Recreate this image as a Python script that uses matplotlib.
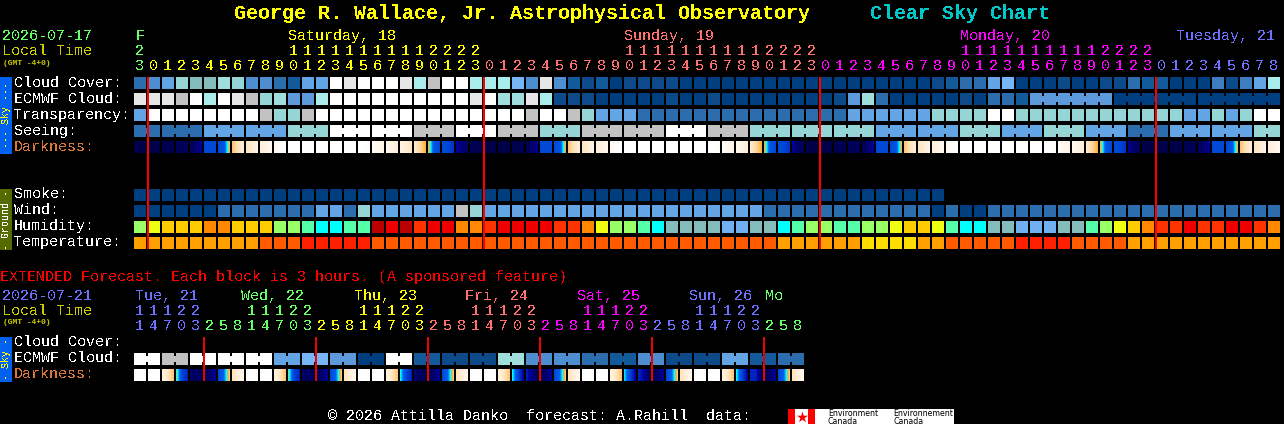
import numpy as np
import matplotlib
matplotlib.use("Agg")
import matplotlib.pyplot as plt
from matplotlib.colors import LinearSegmentedColormap

title_main = "George R. Wallace, Jr. Astrophysical Observatory"
title_side = "Clear Sky Chart"

sky_rows = ["Cloud Cover:", "ECMWF Cloud:", "Transparency:", "Seeing:"]
ground_rows = ["Smoke:", "Wind:", "Humidity:", "Temperature:"]

sky_colors = {0: "#003F7F", 5: "#0D4A8A", 10: "#135A9A", 20: "#2C6DAD", 25: "#3C7EBF",
              30: "#4C8ECF", 35: "#5C9ADB", 40: "#63A4E5", 50: "#76B6F6", 60: "#84BCBC",
              70: "#95D5D5", 75: "#A0DEDE", 80: "#A8ECEC", 90: "#C2C2C2", 95: "#E6E6E6",
              100: "#FFFFFF"}
humidity_colors = ["#BB0000", "#EE0000", "#FF3300", "#FF8800", "#FFCC00", "#EEFF11",
                   "#99FF66", "#55FFAA", "#00FFFF", "#84BCBC", "#70B0F0"]
temperature_colors = ["#FF2000", "#FF5A00", "#FF9F00", "#FFDD00"]
dark_stops = ["#00004A", "#000068", "#0000A0", "#0048D8", "#0060F0", "#00FFFF",
              "#FFB040", "#FFD8A0", "#FFEFD8", "#FFF8F0", "#FFFFFF"]

cloud = [20, 30, 40, 70, 60, 60, 75, 70, 30, 30, 20, 10, 40, 40, 100, 95, 100, 100, 100, 95, 80,
         90, 100, 100, 80, 80, 80, 50, 30, 95, 30, 10, 5, 10, 0, 5, 5, 5, 5, 0, 0,
         0, 0, 0, 0, 0, 0, 0, 0, 0, 0, 0, 0, 0, 0, 0, 0, 5, 10, 20, 20, 40, 50,
         0, 0, 0, 5, 0, 0, 5, 5, 20, 10, 10, 0, 0, 0, 25, 5, 25, 40, 80]
ecmwf = [95, 95, 95, 90, 100, 80, 100, 95, 90, 70, 75, 35, 35, 80, 100, 100, 100, 100, 100, 100, 100,
         100, 100, 100, 95, 100, 75, 75, 95, 80, 5, 5, 5, 0, 0, 0, 0, 0, 5, 0, 0,
         5, 0, 0, 0, 0, 0, 0, 0, 0, 5, 35, 75, 20, 0, 0, 0, 0, 0, 5, 0, 20, 20, 10,
         35, 35, 35, 35, 35, 35, 0, 0, 0, 0, 0, 0, 0, 0, 0, 0, 0, 0]
ecmwf_blocks_from_64 = [6, 6, 6]
transparency = [40, 100, 100, 100, 100, 100, 100, 100, 100, 90, 70, 70, 90, 100, 100, 100, 100, 100, 100, 100, 100,
                100, 100, 100, 100, 100, 100, 100, 90, 100, 100, 90, 70, 40, 40, 40,
                20, 20, 20, 20, 20, 20, 20, 20, 20, 20, 20, 20, 20, 20, 20, 40,
                40, 40, 40, 40, 40, 70, 70, 70, 70, 100, 100,
                70, 70, 70, 70, 70, 70, 70, 70, 70, 70, 70, 70, 40, 40, 70, 40, 70, 100, 100]
seeing_blocks = [20, 20, 40, 40, 70, 100, 100, 90, 100, 90, 70, 90, 90, 100,
                 90, 70, 70, 70, 40, 40, 70, 40, 70, 40, 20, 40, 40, 70]
seeing_spans = [2] + [3] * 26 + [2]
smoke = [0] * 58
wind = [0, 0, 0, 0, 0, 0, 20, 20, 20, 20, 20, 20, 20, 40, 40, 20, 70, 40, 40, 40, 40,
        40, 40, 90, 70, 40, 40, 40, 40, 40, 40, 40, 40, 40, 40, 40, 40, 40, 40, 40, 40, 40, 40, 40, 40,
        20, 20, 20, 20, 20, 20, 20, 20, 20, 20, 20, 20, 0, 20, 0, 0,
        20, 20, 20, 20, 20, 20, 20, 20, 20, 20, 20, 20, 20, 20, 20, 20, 20, 20, 20, 20, 20]
humidity = [6, 5, 4, 4, 4, 3, 3, 4, 4, 4, 6, 6, 7, 8, 8, 7, 7, 0, 1, 0, 2,
            1, 1, 3, 3, 2, 1, 1, 1, 1, 2, 2, 3, 5, 6, 6, 7, 8, 9, 9, 9, 9, 10, 10, 9, 9, 8, 7, 6, 6, 7, 7,
            6, 6, 5, 4, 4, 5, 7, 8, 8, 9, 9, 10, 10, 10, 9, 9, 7, 6, 5, 4, 3, 2, 2, 1, 2, 2, 1, 1, 2, 3]
temperature = [2, 2, 2, 2, 2, 2, 2, 2, 2, 1, 1, 1, 0, 0, 0, 0, 0, 1, 1, 1, 1,
               1, 1, 1, 1, 1, 1, 1, 1, 1, 1, 1, 1, 1, 1, 1, 1, 1, 1, 1, 1, 1, 1, 1, 1, 1,
               2, 2, 2, 2, 2, 2,
               3, 3, 3, 3, 2, 2, 1, 1, 1, 1, 1, 0, 0, 0, 0, 1, 1, 1, 1,
               2, 2, 2, 2, 2, 2, 2, 2, 2, 2, 2]
darkness = [(0, 0, 0), (0, 0, 0), (.3, .3, .3), (.5, .5, .5), (.7, 1, 2), (3, 3, 3),
            (3, 3.5, 6), (6.5, 7.5, 8), (7.5, 8, 8.5), (8, 8.5, 9), (9, 9.5, 10), (10, 10, 10),
            (10, 10, 10), (10, 10, 10), (10, 10, 10), (10, 10, 10), (10, 10, 9.5), (9.5, 9, 8.5),
            (9, 8.5, 8), (8.5, 8, 7.5), (7.8, 7, 6), (6, 3.5, 3), (3, 3, 2.7), (2, 1.2, 1),
            (.3, .3, .3), (0, 0, 0), (0, 0, 0), (.3, .3, .3), (.5, .8, 2), (3, 3, 3),
            (3, 3.5, 6), (6.5, 7.5, 8), (7.5, 8, 8.5), (8, 8.5, 9), (9, 9.5, 10), (10, 10, 10),
            (10, 10, 10), (10, 10, 10), (10, 10, 10), (10, 10, 10), (10, 10, 10), (10, 10, 9.5),
            (9.5, 9, 8.5), (9, 8.5, 8), (7.8, 7, 6), (6, 3.5, 3), (3, 3, 2.7), (2, 1, .5),
            (0, 0, 0), (0, 0, 0), (.3, .3, .3), (.5, .5, .5), (.5, 1, 2), (3, 3, 3),
            (3, 3.5, 6), (6.5, 7.5, 8), (7.5, 8, 8.5), (8, 8.5, 9), (9, 9.5, 10), (10, 10, 10),
            (10, 10, 10), (10, 10, 10), (10, 10, 10), (10, 10, 10), (10, 10, 10), (10, 10, 9.5),
            (9.5, 9, 8.5), (9, 8.5, 8), (7.8, 7, 6), (6, 3.5, 3), (3, 3, 2.7), (2, 1, .5),
            (0, 0, 0), (0, 0, 0), (0, 0, 0), (.3, .3, .3), (.7, 1, 2), (3, 3, 3),
            (3, 3.5, 6), (6.5, 7.5, 8), (7.5, 8, 8.5), (8, 8.5, 9)]

# hour labels: (tens, ones, colour index per column)
day_colors = {"F": "#66FF66", "S": "#FFFF00", "U": "#FF7070", "M": "#FF00FF", "T": "#7070FF"}
hour_tens = "2" + "          1111111111" + "2222" + "          1111111111" + "2222" + "          1111111111" + "2222" + "         "
hour_ones = "3" + "012345678901234567890123" * 3 + "012345678"
hour_days = "F" + "S" * 24 + "U" * 24 + "M" * 24 + "T" * 9
day_titles = [("F", 136, "F"), ("Saturday, 18", 288, "S"), ("Sunday, 19", 624, "U"),
              ("Monday, 20", 960, "M"), ("Tuesday, 21", 1176, "T")]

ext_ecmwf = [100, 90, 100, 100, 100, 40, 50, 35, 0, 100, 10, 5, 5, 75, 30, 30, 20, 10, 30, 5, 5, 40, 10, 20]
ext_darkness = [(10, 10, 10), (10, 10, 10), (8.5, 7.5, 6.5), (5.5, 3, 2.5), (.8, .8, .8), (.5, 1, 2),
                (3, 4, 6.5), (7.5, 8, 9), (10, 10, 10), (10, 10, 10), (8.5, 7.5, 6.5), (5.5, 3, 2.5),
                (.8, .8, .8), (.5, 1, 2), (3, 4, 6.5), (7.5, 8, 9), (10, 10, 10), (10, 10, 10),
                (8.5, 7.5, 6.5), (5, 3, 2.5), (1.5, .5, .5), (.5, 1, 2), (3, 4, 6.5), (7.5, 8, 9),
                (10, 10, 10), (10, 10, 10), (8.5, 7.5, 6.5), (5, 3, 2), (2.5, 1.5, .5), (.5, 1, 2),
                (3, 4, 6.5), (7.5, 8, 9), (10, 10, 10), (10, 10, 10), (8.5, 7.5, 6.5), (4.8, 3, 2),
                (2.5, 2, .5), (.5, 1, 2), (3, 4, 6.5), (7.5, 8, 9), (10, 10, 10), (10, 10, 10),
                (8.5, 7.5, 6.5), (5, 3, 2), (2.5, 2.5, 1), (.5, 1, 2), (3, 4, 6.5), (7.5, 8, 9)]
ext_tens = "11122" + "   11122" * 5 + "   "
ext_ones = "14703" + "25814703" * 5 + "258"
ext_days = "T" * 5 + "W" * 8 + "S" * 8 + "U" * 8 + "M" * 8 + "T" * 8 + "W" * 3
ext_day_colors = dict(day_colors, W="#66FF66")
ext_titles = [("Tue, 21", 135, "T"), ("Wed, 22", 241, "W"), ("Thu, 23", 354, "S"), ("Fri, 24", 465, "U"),
              ("Sat, 25", 577, "M"), ("Sun, 26", 689, "T"), ("Mo", 765, "W")]

plt.rcParams["font.family"] = ["Liberation Mono", "DejaVu Sans Mono"]
plt.rcParams["text.antialiased"] = False

fig = plt.figure(figsize=(12.84, 4.24), dpi=100, facecolor="black")
ax = fig.add_axes([0, 0, 1, 1], facecolor="black")
ax.axis("off")

X0, PITCH, CELL = 134, 14, 12
PX = 72 / 100  # points per pixel
dark_cmap = LinearSegmentedColormap.from_list("dark", list(zip(np.linspace(0, 1, 11), dark_stops)), N=1024)


def text(x, y, s, color="white", px=15.0, **kw):
    ax.text(x, y, s, color=color, fontsize=px * PX, va="baseline", ha=kw.pop("ha", "left"), **kw)


def cells(values, y, colors):
    vals = list(values)
    ax.bar([X0 + PITCH * i for i in range(len(vals))], [CELL] * len(vals), width=CELL, bottom=y,
           align="edge", color=[colors[v] for v in vals], linewidth=0, antialiased=False)


def connect(values, spans, y, colors, start=0):
    c = start
    for n in spans:
        for k in range(n - 1):
            ax.bar(X0 + PITCH * (c + k) + CELL, 6, width=2, bottom=y + 3, align="edge",
                   color=colors[values[c + k]], linewidth=0, antialiased=False)
        c += n


def dark_row(rows, y):
    for i, stops in enumerate(rows):
        grad = np.interp(np.linspace(0, 1, CELL), [0, .5, 1], stops) / 10
        x = X0 + PITCH * i
        ax.imshow(grad[None, :], cmap=dark_cmap, vmin=0, vmax=1, aspect="auto", interpolation="nearest",
                  extent=(x, x + CELL, y + CELL, y))


# titles
text(234, 19, title_main, "#FFFF00", px=20, fontweight="bold")
text(870, 19, title_side, "#00C8C8", px=20, fontweight="bold")

# main header
text(2, 40, "2026-07-17", "#66FF66")
text(2, 55, "Local Time", "#CCCC00")
text(3, 65, "(GMT -4+0)", "#CCCC00", px=8, fontweight="bold", antialiased=True)
for s, x, d in day_titles:
    text(x, 40, s, day_colors[d])
for i, d in enumerate(hour_days):
    cx = X0 + PITCH * i + 5.5
    if hour_tens[i] != " ":
        text(cx, 55, hour_tens[i], day_colors[d], ha="center")
    text(cx, 70, hour_ones[i], day_colors[d], ha="center")

# sky section
cells(cloud, 77, sky_colors)
cells(ecmwf, 93, sky_colors)
connect(ecmwf, ecmwf_blocks_from_64, 93, sky_colors, start=64)
cells(transparency, 109, sky_colors)
seeing = [v for v, n in zip(seeing_blocks, seeing_spans) for _ in range(n)]
cells(seeing, 125, sky_colors)
connect(seeing, seeing_spans, 125, sky_colors)
dark_row(darkness, 141)
for j, s in enumerate(sky_rows):
    text(14, 87 + 16 * j, s)
text(14, 151, "Darkness:", "#D87838")

# ground section
cells(smoke, 189, sky_colors)
cells(wind, 205, sky_colors)
cells(humidity, 221, humidity_colors)
cells(temperature, 237, temperature_colors)
for j, s in enumerate(ground_rows):
    text(14, 198 + 16 * j, s)

# side bars
ax.bar(0, 77, width=12, bottom=77, align="edge", color="#0060F0", linewidth=0, antialiased=False)
ax.bar(0, 61, width=12, bottom=189, align="edge", color="#556B00", linewidth=0, antialiased=False)
ax.bar(0, 45, width=12, bottom=337, align="edge", color="#0060F0", linewidth=0, antialiased=False)
ax.text(6, 115.5, "--- Sky ---", color="#FFFF00", fontsize=10 * PX, rotation=90, ha="center", va="center")
ax.text(6, 219.5, "- Ground -", color="white", fontsize=10 * PX, rotation=90, ha="center", va="center")
ax.text(6, 359.5, "- Sky -", color="#FFFF00", fontsize=10 * PX, rotation=90, ha="center", va="center")

# red midnight markers
ax.vlines([X0 + PITCH * c for c in [1, 25, 49, 73]], 77, 249, color="#FF0000", linewidth=2 * PX,
          antialiased=False, zorder=5)

# extended forecast
text(0, 281, "EXTENDED Forecast. Each block is 3 hours. (A sponsored feature)", "#FF0000")
text(2, 300, "2026-07-21", "#7070FF")
text(2, 315, "Local Time", "#CCCC00")
text(3, 324, "(GMT -4+0)", "#CCCC00", px=8, fontweight="bold", antialiased=True)
for s, x, d in ext_titles:
    text(x, 300, s, ext_day_colors[d])
for i, d in enumerate(ext_days):
    cx = X0 + PITCH * i + 5.5
    if ext_tens[i] != " ":
        text(cx, 315, ext_tens[i], ext_day_colors[d], ha="center")
    text(cx, 330, ext_ones[i], ext_day_colors[d], ha="center")
ext_ecmwf_cols = [v for v in ext_ecmwf for _ in range(2)]
cells(ext_ecmwf_cols, 353, sky_colors)
connect(ext_ecmwf_cols, [2] * 24, 353, sky_colors)
dark_row(ext_darkness, 369)
text(14, 346, "Cloud Cover:")
text(14, 362, "ECMWF Cloud:")
text(14, 378, "Darkness:", "#D87838")
ax.vlines([X0 + PITCH * c for c in [5, 13, 21, 29, 37, 45]], 337, 381, color="#EE0000", linewidth=2 * PX,
          antialiased=False, zorder=5)

# footer
text(328, 420, "\u00a9 2026 Attilla Danko  forecast: A.Rahill  data:")
ax.bar(788, 15, width=166, bottom=409, align="edge", color="white", linewidth=0, antialiased=False)
ax.bar([788, 808], [15, 15], width=7, bottom=409, align="edge", color="#FF0000", linewidth=0, antialiased=False)
ax.scatter([802], [416.5], marker="*", s=70, color="#FF0000", linewidths=0, zorder=4)
for x, a in [(828, "Environment"), (893, "Environnement")]:
    ax.text(x, 416, a, color="black", fontsize=7.9 * PX, family="DejaVu Sans", va="baseline", zorder=4, antialiased=True)
    ax.text(x, 424, "Canada", color="black", fontsize=7.9 * PX, family="DejaVu Sans", va="baseline", zorder=4, antialiased=True)

ax.set_xlim(0, 1284)
ax.set_ylim(424, 0)
fig.savefig("out.png", dpi=100, facecolor="black")
